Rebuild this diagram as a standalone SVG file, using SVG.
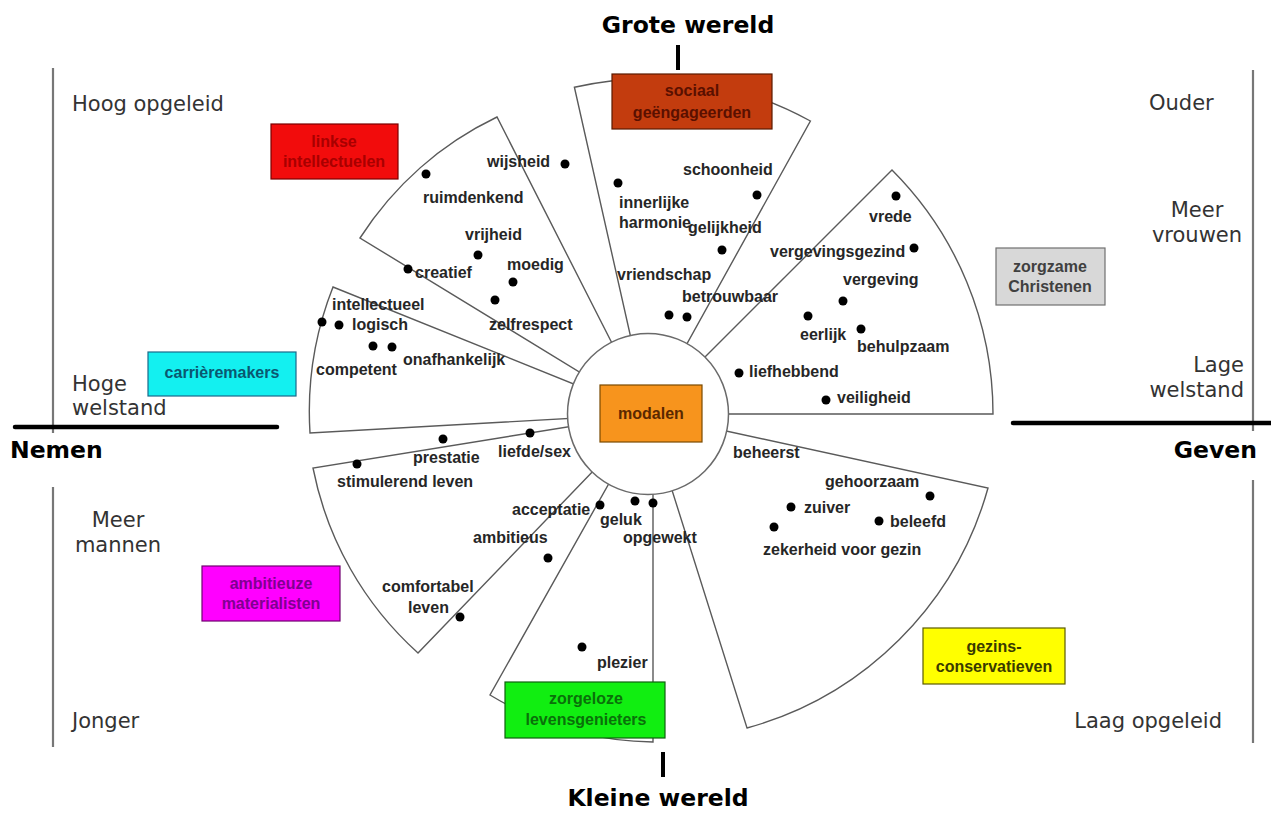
<svg xmlns="http://www.w3.org/2000/svg" width="1271" height="814" viewBox="0 0 1271 814">
<style>
.wedge{fill:#fff;stroke:#5a5a5a;stroke-width:1.4}
.hub{fill:#fff;stroke:#6a6a6a;stroke-width:1.5}
.axis{stroke:#777;stroke-width:2.2;fill:none}
.bar{stroke:#000;stroke-width:4.5;stroke-linecap:round;fill:none}
.tick{stroke:#000;stroke-width:4;fill:none}
.pole{font-family:"DejaVu Sans",sans-serif;font-weight:bold;font-size:23.5px;fill:#000}
.lab{font-family:"DejaVu Sans",sans-serif;font-size:21px;fill:#333}
.val{font-family:"Liberation Sans",Arial,sans-serif;font-weight:bold;font-size:16px;fill:#262626}
.bt{font-family:"Liberation Sans",Arial,sans-serif;font-weight:bold;font-size:16px;text-anchor:middle}
.dot{fill:#000}
</style>
<rect x="0" y="0" width="1271" height="814" fill="#fff"/>

<g id="axes">
  <line class="axis" x1="53" y1="68" x2="53" y2="433"/>
  <line class="axis" x1="53" y1="487" x2="53" y2="747"/>
  <line class="axis" x1="1253" y1="70" x2="1253" y2="431"/>
  <line class="axis" x1="1253" y1="480" x2="1253" y2="743"/>
  <line class="bar" x1="15" y1="427" x2="277" y2="427"/>
  <line class="bar" x1="1013" y1="423" x2="1271" y2="423"/>
  <line class="tick" x1="678" y1="45" x2="678" y2="70"/>
  <line class="tick" x1="663" y1="752" x2="663" y2="777"/>
  <text class="pole" x="688" y="33" text-anchor="middle">Grote wereld</text>
  <text class="pole" x="658" y="806" text-anchor="middle">Kleine wereld</text>
  <text class="pole" x="10" y="458">Nemen</text>
  <text class="pole" x="1257" y="458" text-anchor="end">Geven</text>
  <text class="lab" x="72" y="111">Hoog opgeleid</text>
  <text class="lab" x="72" y="391">Hoge</text>
  <text class="lab" x="72" y="415">welstand</text>
  <text class="lab" x="118" y="527" text-anchor="middle">Meer</text>
  <text class="lab" x="118" y="552" text-anchor="middle">mannen</text>
  <text class="lab" x="72" y="728">Jonger</text>
  <text class="lab" x="1149" y="110">Ouder</text>
  <text class="lab" x="1197" y="217" text-anchor="middle">Meer</text>
  <text class="lab" x="1197" y="242" text-anchor="middle">vrouwen</text>
  <text class="lab" x="1244" y="372" text-anchor="end">Lage</text>
  <text class="lab" x="1244" y="397" text-anchor="end">welstand</text>
  <text class="lab" x="1222" y="728" text-anchor="end">Laag opgeleid</text>
</g>

<g id="sectors">
  <path class="wedge" d="M648,414 L574.4,87.2 A335,335 0 0 1 810.4,121 Z"/>
  <path class="wedge" d="M648,414 L892,170 A345,345 0 0 1 993,414 Z"/>
  <path class="wedge" d="M648,414 L988,488 A345,345 0 0 1 747,728 Z"/>
  <path class="wedge" d="M648,414 L653,470 L653,742 A325,325 0 0 1 490,695 Z"/>
  <path class="wedge" d="M648,414 L418,653 A336,336 0 0 1 313,468 Z"/>
  <path class="wedge" d="M648,414 L310,433 A340,340 0 0 1 333,287 Z"/>
  <path class="wedge" d="M648,414 L360,238 A335,335 0 0 1 497,117 Z"/>
</g>

<g id="modalen">
  <circle class="hub" cx="648" cy="414" r="80.5"/>
  <rect x="600" y="385" width="102" height="57" fill="#f7941d" stroke="#7a4a00" stroke-width="1.2"/>
  <text class="bt" x="651" y="419" fill="#5a2800">modalen</text>
</g>

<g id="sociaal-geengageerden">
  <rect x="612" y="74" width="160" height="55" fill="#c33c0e" stroke="#5a1a00" stroke-width="1.2"/>
  <text class="bt" x="692" y="96" fill="#5a1000">sociaal</text>
  <text class="bt" x="692" y="118" fill="#5a1000">geëngageerden</text>
  <g class="dot"><circle cx="618" cy="183" r="4.5"/><circle cx="757" cy="195" r="4.5"/><circle cx="722" cy="250" r="4.5"/><circle cx="669" cy="315" r="4.5"/><circle cx="687" cy="317" r="4.5"/></g>
  <text class="val" x="683" y="175">schoonheid</text>
  <text class="val" x="619" y="208">innerlijke</text>
  <text class="val" x="619" y="228">harmonie</text>
  <text class="val" x="688" y="233">gelijkheid</text>
  <text class="val" x="617" y="280">vriendschap</text>
  <text class="val" x="682" y="302">betrouwbaar</text>
</g>

<g id="zorgzame-christenen">
  <rect x="996" y="248" width="109" height="57" fill="#d8d8d8" stroke="#707070" stroke-width="1.2"/>
  <text class="bt" x="1050" y="272" fill="#404040">zorgzame</text>
  <text class="bt" x="1050" y="292" fill="#404040">Christenen</text>
  <g class="dot"><circle cx="896" cy="196" r="4.5"/><circle cx="914" cy="248" r="4.5"/><circle cx="843" cy="301" r="4.5"/><circle cx="808" cy="316" r="4.5"/><circle cx="861" cy="329" r="4.5"/><circle cx="739" cy="373" r="4.5"/><circle cx="826" cy="400" r="4.5"/></g>
  <text class="val" x="869" y="222">vrede</text>
  <text class="val" x="770" y="257">vergevingsgezind</text>
  <text class="val" x="843" y="285">vergeving</text>
  <text class="val" x="800" y="340">eerlijk</text>
  <text class="val" x="857" y="352">behulpzaam</text>
  <text class="val" x="749" y="377">liefhebbend</text>
  <text class="val" x="837" y="403">veiligheid</text>
</g>

<g id="gezins-conservatieven">
  <rect x="923" y="628" width="142" height="56" fill="#ffff00" stroke="#5a5a00" stroke-width="1.2"/>
  <text class="bt" x="994" y="652" fill="#3a3a00">gezins-</text>
  <text class="bt" x="994" y="672" fill="#3a3a00">conservatieven</text>
  <g class="dot"><circle cx="930" cy="496" r="4.5"/><circle cx="791" cy="507" r="4.5"/><circle cx="879" cy="521" r="4.5"/><circle cx="774" cy="527" r="4.5"/></g>
  <text class="val" x="733" y="458">beheerst</text>
  <text class="val" x="825" y="487">gehoorzaam</text>
  <text class="val" x="804" y="513">zuiver</text>
  <text class="val" x="890" y="527">beleefd</text>
  <text class="val" x="763" y="555">zekerheid voor gezin</text>
</g>

<g id="zorgeloze-levensgenieters">
  <rect x="505" y="682" width="160" height="56" fill="#11ee11" stroke="#106010" stroke-width="1.2"/>
  <text class="bt" x="586" y="704" fill="#0a700a">zorgeloze</text>
  <text class="bt" x="586" y="725" fill="#0a700a">levensgenieters</text>
  <g class="dot"><circle cx="635" cy="501" r="4.5"/><circle cx="653" cy="503" r="4.5"/><circle cx="582" cy="647" r="4.5"/></g>
  <text class="val" x="600" y="525">geluk</text>
  <text class="val" x="623" y="543">opgewekt</text>
  <text class="val" x="597" y="668">plezier</text>
</g>

<g id="ambitieuze-materialisten">
  <rect x="202" y="566" width="138" height="55" fill="#ff00ff" stroke="#700070" stroke-width="1.2"/>
  <text class="bt" x="271" y="589" fill="#800090">ambitieuze</text>
  <text class="bt" x="271" y="609" fill="#800090">materialisten</text>
  <g class="dot"><circle cx="443" cy="439" r="4.5"/><circle cx="530" cy="433" r="4.5"/><circle cx="357" cy="464" r="4.5"/><circle cx="600" cy="505" r="4.5"/><circle cx="548" cy="558" r="4.5"/><circle cx="460" cy="617" r="4.5"/></g>
  <text class="val" x="413" y="463">prestatie</text>
  <text class="val" x="498" y="457">liefde/sex</text>
  <text class="val" x="337" y="487">stimulerend leven</text>
  <text class="val" x="512" y="515">acceptatie</text>
  <text class="val" x="473" y="543">ambitieus</text>
  <text class="val" x="382" y="592">comfortabel</text>
  <text class="val" x="408" y="613">leven</text>
</g>

<g id="carrieremakers">
  <rect x="148" y="352" width="148" height="44" fill="#13f0f0" stroke="#1a6a8a" stroke-width="1.2"/>
  <text class="bt" x="222" y="378" fill="#0a5870">carrièremakers</text>
  <g class="dot"><circle cx="322" cy="322" r="4.5"/><circle cx="339" cy="325" r="4.5"/><circle cx="373" cy="346" r="4.5"/><circle cx="392" cy="347" r="4.5"/></g>
  <text class="val" x="332" y="310">intellectueel</text>
  <text class="val" x="352" y="330">logisch</text>
  <text class="val" x="316" y="375">competent</text>
  <text class="val" x="403" y="365">onafhankelijk</text>
</g>

<g id="linkse-intellectuelen">
  <rect x="271" y="124" width="127" height="55" fill="#f20c0c" stroke="#7a0000" stroke-width="1.2"/>
  <text class="bt" x="334" y="147" fill="#a80000">linkse</text>
  <text class="bt" x="334" y="167" fill="#a80000">intellectuelen</text>
  <g class="dot"><circle cx="565" cy="164" r="4.5"/><circle cx="426" cy="174" r="4.5"/><circle cx="478" cy="255" r="4.5"/><circle cx="513" cy="282" r="4.5"/><circle cx="408" cy="269" r="4.5"/><circle cx="495" cy="300" r="4.5"/></g>
  <text class="val" x="487" y="167">wijsheid</text>
  <text class="val" x="423" y="203">ruimdenkend</text>
  <text class="val" x="465" y="240">vrijheid</text>
  <text class="val" x="507" y="270">moedig</text>
  <text class="val" x="415" y="278">creatief</text>
  <text class="val" x="489" y="330">zelfrespect</text>
</g>
</svg>
